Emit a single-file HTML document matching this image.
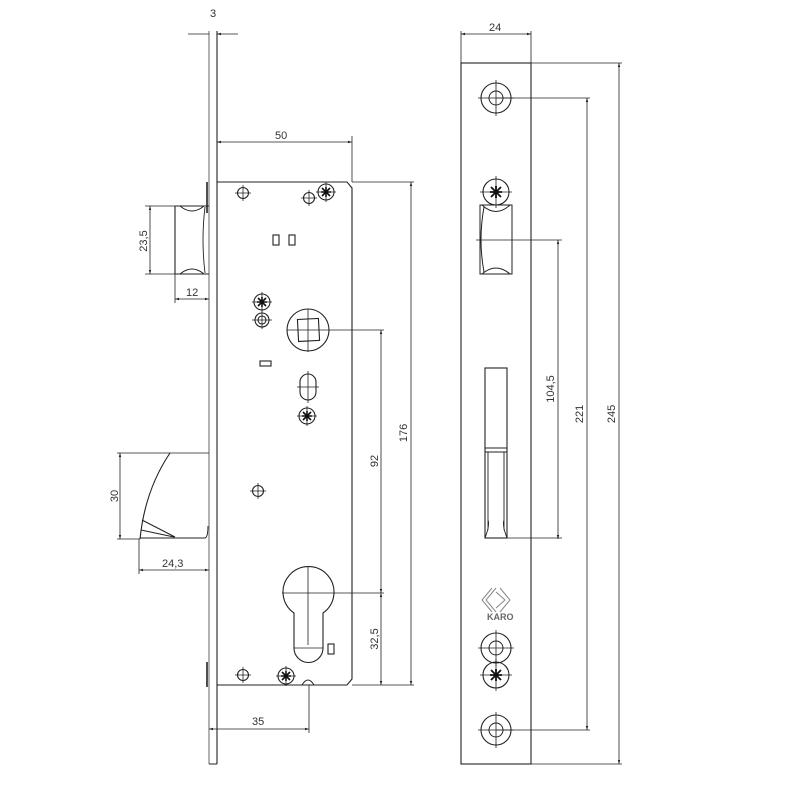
<!DOCTYPE html>
<html><head><meta charset="utf-8"><style>html,body{margin:0;padding:0;background:#fff}svg{display:block}text{font-family:"Liberation Sans",sans-serif;font-size:11px;fill:#333}</style></head><body>
<svg width="800" height="800" viewBox="0 0 800 800" xmlns="http://www.w3.org/2000/svg">
<defs>
<marker id="a" viewBox="0 0 10 10" refX="10" refY="5" markerWidth="7" markerHeight="5" orient="auto-start-reverse"><path d="M0,2 L10,5 L0,8 z" fill="#222"/></marker>
<g id="hole"><circle r="5.5" fill="none" stroke="#222" stroke-width="1.1"/><path d="M-8,0H8M0,-8V8" stroke="#222" stroke-width="0.8"/></g>
<g id="screw"><circle r="8" fill="none" stroke="#222" stroke-width="1.1"/><path d="M-10,0H10M0,-10V10" stroke="#222" stroke-width="0.8"/><path d="M-4,-4L4,4M-4,4L4,-4M-5,0H5M0,-5V5" stroke="#111" stroke-width="1.6"/></g>
<g id="screwR"><circle r="13" fill="none" stroke="#222" stroke-width="1.1"/><path d="M-16,0H16M0,-16V16" stroke="#222" stroke-width="0.8"/><path d="M-5,-5L5,5M-5,5L5,-5M-6,0H6M0,-6V6" stroke="#111" stroke-width="1.8"/></g>
<g id="washR"><circle r="15" fill="none" stroke="#222" stroke-width="1.1"/><circle r="7" fill="none" stroke="#222" stroke-width="1"/><path d="M-18,0H18M0,-18V18" stroke="#222" stroke-width="0.8"/></g>
</defs>
<g fill="none" stroke="#222" stroke-width="1.1">
<!-- left view faceplate -->
<path d="M209,31V764" stroke="#999" stroke-width="1.5"/>
<path d="M217,31V764M209,764H217"/>
<path d="M207,182V213M207,662V687" stroke-width="1.6"/>
<!-- case -->
<path d="M217,182H347L352,188V679L347,685H217"/>
<!-- latch top -->
<path d="M175,206V274M175,206H209M175,274H209"/>
<path d="M180,206Q192,216 204,206M180,274Q192,264 204,274" stroke-width="1"/>
<path d="M205,207Q201,240 205,273" stroke-width="0.9"/>
<!-- dead latch bottom -->
<path d="M170,453Q145,490 140,539"/>
<path d="M142,520L175,537M141,530Q160,534 174,537M140,538H205Q208,537 208,526" stroke-width="1"/>
<!-- features -->
<use href="#hole" x="243" y="193"/>
<use href="#hole" x="309" y="198"/>
<use href="#screw" x="326" y="192"/>
<rect x="273" y="235" width="6" height="10"/>
<rect x="289" y="235" width="6" height="10"/>
<use href="#screw" x="262" y="302"/>
<circle cx="262" cy="320" r="7"/><circle cx="262" cy="320" r="4"/><path d="M252,320H272M262,311V329" stroke-width="0.8"/>
<circle cx="308" cy="330" r="21"/>
<rect x="298" y="319" width="21" height="22" transform="rotate(-3 308 330)"/>
<path d="M287,330H384M308,309V352" stroke-width="0.8"/>
<rect x="260" y="361" width="11" height="5"/>
<rect x="300" y="374" width="16" height="26" rx="8"/><path d="M297,387H319M308,371V403" stroke-width="0.8"/>
<use href="#screw" x="307" y="416"/>
<use href="#hole" x="258" y="491"/>
<!-- cylinder -->
<path d="M294,613A25.5,25.5 0 1 1 323,613V648A14.5,14.5 0 0 1 294,648Z"/>
<path d="M294,648H323M282,593H384M308,566V645" stroke-width="0.8"/>
<rect x="328" y="644" width="6" height="10"/>
<use href="#hole" x="243" y="675"/>
<use href="#screw" x="286" y="676"/>
<path d="M302,685Q308,675 314,685" stroke-width="0.9"/>
<!-- right view plate -->
<rect x="461" y="63" width="70" height="701"/>
<use href="#washR" x="496" y="98"/>
<use href="#screwR" x="496" y="192"/>
<path d="M480,205H512V274H480ZM482,205Q496,218 510,205M482,274Q496,262 510,274M484,207Q478,240 484,272" stroke-width="1"/>
<path d="M476,240H562" stroke-width="0.8"/>
<rect x="485" y="368" width="22" height="170"/>
<path d="M485,448H507M485,452H507M488,452V530M504,452V530M485,538Q490,525 488,520M507,538Q502,525 504,520" stroke-width="0.9"/>
<path d="M507,538H562" stroke-width="0.8"/>
<g stroke="#888" stroke-width="1"><path d="M496,588L486,600L496,612M492,588L482,600L492,612M500,588L510,600L500,612M496,592L505,600L496,608"/></g>
<use href="#washR" x="496" y="648"/>
<use href="#screwR" x="496" y="675"/>
<use href="#washR" x="496" y="730"/>
<path d="M496,98H590M496,730H590M531,63H622M531,764H622" stroke-width="0.8"/>
</g>
<text x="487" y="620" font-size="9" style="font-size:9px;fill:#666;font-weight:bold">KARO</text>
<!-- dimensions -->
<g fill="none" stroke="#222" stroke-width="0.8">
<path d="M188,34H209M238,34H217" marker-end="url(#a)"/>
<path d="M217,142H352" marker-start="url(#a)" marker-end="url(#a)"/><path d="M352,136V182"/>
<path d="M352,182H414M352,685H414"/>
<path d="M411,182V685" marker-start="url(#a)" marker-end="url(#a)"/>
<path d="M381,330V593" marker-start="url(#a)" marker-end="url(#a)"/>
<path d="M381,593V685" marker-start="url(#a)" marker-end="url(#a)"/>
<path d="M145,206H175M145,274H175"/>
<path d="M150,206V274" marker-start="url(#a)" marker-end="url(#a)"/>
<path d="M175,274V303"/>
<path d="M175,299H209" marker-start="url(#a)" marker-end="url(#a)"/>
<path d="M117,453H209M117,539H140"/>
<path d="M120,453V539" marker-start="url(#a)" marker-end="url(#a)"/>
<path d="M139,539V574"/>
<path d="M139,570H209" marker-start="url(#a)" marker-end="url(#a)"/>
<path d="M309,685V733"/>
<path d="M209,729H309" marker-start="url(#a)" marker-end="url(#a)"/>
<path d="M461,31V63M531,31V63"/>
<path d="M461,34H531" marker-start="url(#a)" marker-end="url(#a)"/>
<path d="M558,240V539" marker-start="url(#a)" marker-end="url(#a)"/>
<path d="M587,98V730" marker-start="url(#a)" marker-end="url(#a)"/>
<path d="M619,63V764" marker-start="url(#a)" marker-end="url(#a)"/>
</g>
<text x="210" y="17">3</text>
<text x="275" y="139">50</text>
<text x="186" y="296">12</text>
<text x="162" y="567">24,3</text>
<text x="252" y="725">35</text>
<text x="489" y="31">24</text>
<text transform="translate(147,241) rotate(-90)" text-anchor="middle">23,5</text>
<text transform="translate(118,496) rotate(-90)" text-anchor="middle">30</text>
<text transform="translate(407,433) rotate(-90)" text-anchor="middle">176</text>
<text transform="translate(378,461) rotate(-90)" text-anchor="middle">92</text>
<text transform="translate(378,639) rotate(-90)" text-anchor="middle">32,5</text>
<text transform="translate(554,389) rotate(-90)" text-anchor="middle">104,5</text>
<text transform="translate(583,414) rotate(-90)" text-anchor="middle">221</text>
<text transform="translate(615,414) rotate(-90)" text-anchor="middle">245</text>
</svg>
</body></html>
